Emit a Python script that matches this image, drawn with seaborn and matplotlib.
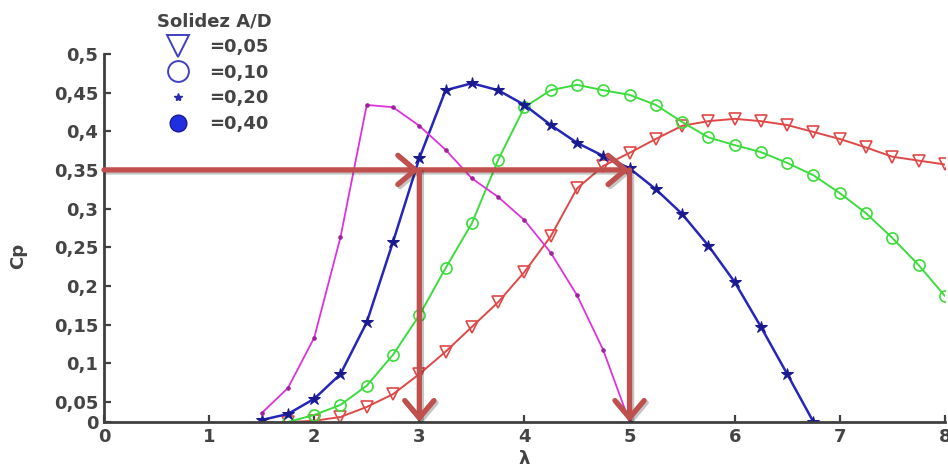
"""
Cp vs tip speed ratio for several solidity values (A/D)
"""
import numpy as np
import matplotlib
matplotlib.use('Agg')
import matplotlib.pyplot as plt
import matplotlib.patheffects as pe
from matplotlib.lines import Line2D
import seaborn as sns

# lambda values and Cp for each solidity
LAM_040 = [1.5, 1.75, 2.0, 2.25, 2.5, 2.75, 3.0, 3.25, 3.5, 3.75, 4.0,
           4.25, 4.5, 4.75, 5.0]
CP_040 = [0.022, 0.068, 0.133, 0.263, 0.434, 0.431, 0.407, 0.376, 0.339,
          0.315, 0.285, 0.243, 0.188, 0.117, 0.0]

LAM_020 = [1.5, 1.75, 2.0, 2.25, 2.5, 2.75, 3.0, 3.25, 3.5, 3.75, 4.0,
           4.25, 4.5, 4.75, 5.0, 5.25, 5.5, 5.75, 6.0, 6.25, 6.5, 6.75]
CP_020 = [0.005, 0.02, 0.054, 0.086, 0.153, 0.257, 0.365, 0.453, 0.462,
          0.453, 0.434, 0.408, 0.385, 0.368, 0.352, 0.325, 0.293, 0.252,
          0.205, 0.147, 0.086, 0.0]

LAM_010 = [1.75, 2.0, 2.25, 2.5, 2.75, 3.0, 3.25, 3.5, 3.75, 4.0, 4.25,
           4.5, 4.75, 5.0, 5.25, 5.5, 5.75, 6.0, 6.25, 6.5, 6.75, 7.0,
           7.25, 7.5, 7.75, 8.0]
CP_010 = [0.0, 0.0175, 0.0425, 0.071, 0.111, 0.162, 0.223, 0.281, 0.363,
          0.431, 0.453, 0.46, 0.453, 0.447, 0.434, 0.412, 0.392, 0.382,
          0.373, 0.359, 0.343, 0.32, 0.294, 0.262, 0.227, 0.187]

LAM_005 = [1.75, 2.0, 2.25, 2.5, 2.75, 3.0, 3.25, 3.5, 3.75, 4.0, 4.25,
           4.5, 4.75, 5.0, 5.25, 5.5, 5.75, 6.0, 6.25, 6.5, 6.75, 7.0,
           7.25, 7.5, 7.75, 8.0]
CP_005 = [0.0, 0.003, 0.0125, 0.0375, 0.06, 0.086, 0.115, 0.147, 0.179,
          0.218, 0.264, 0.326, 0.355, 0.372, 0.39, 0.407, 0.413, 0.416,
          0.413, 0.408, 0.399, 0.39, 0.379, 0.367, 0.362, 0.357]

SOLIDITY_LABELS = ['=0,05', '=0,10', '=0,20', '=0,40']
Y_TICKS = [0, 0.05, 0.1, 0.15, 0.2, 0.25, 0.3, 0.35, 0.4, 0.45, 0.5]
Y_TICK_LABELS = ['0', '0,05', '0,1', '0,15', '0,2', '0,25', '0,3', '0,35',
                 '0,4', '0,45', '0,5']
X_TICKS = [0, 1, 2, 3, 4, 5, 6, 7, 8]

# operating points marked with arrows
CP_TARGET = 0.35
LAM_MARKS = [3, 5]

TEXT_COLOR = '#444444'
ARROW_COLOR = '#c0504d'

# the original axis squeezes the band between 0 and 0.05
SQUEEZE = 0.52


def fwd(y):
    y = np.asarray(y, dtype=float)
    return np.where(y < 0.05, 0.05 - (0.05 - y) * SQUEEZE, y)


def inv(u):
    u = np.asarray(u, dtype=float)
    return np.where(u < 0.05, 0.05 - (0.05 - u) / SQUEEZE, u)


def arrow(ax, start, end):
    """

    """
    ax.annotate('', xy=end, xytext=start, annotation_clip=False,
                arrowprops=dict(arrowstyle='->,head_length=0.5,head_width=0.42',
                                color=ARROW_COLOR, lw=3.8, mutation_scale=25,
                                shrinkA=0, shrinkB=0,
                                path_effects=[pe.SimpleLineShadow(offset=(1.5, -1.5), alpha=0.25),
                                              pe.Normal()]),
                zorder=10)


def plot_cp():
    """

    """
    fig = plt.figure(figsize=(9.48, 4.66), dpi=100)
    ax = fig.add_axes([0.1097, 0.0944, 0.887, 0.79])

    sns.lineplot(x=LAM_005, y=CP_005, ax=ax, color='#e04848', lw=1.4,
                 marker='v', markersize=8, markerfacecolor='none',
                 markeredgecolor='#e04848', markeredgewidth=1.2, estimator=None)
    sns.lineplot(x=LAM_010, y=CP_010, ax=ax, color='#3cdc3c', lw=1.4,
                 marker='o', markersize=8, markerfacecolor='none',
                 markeredgecolor='#3cdc3c', markeredgewidth=1.2, estimator=None)
    sns.lineplot(x=LAM_020, y=CP_020, ax=ax, color='#2626b8', lw=1.8,
                 marker='*', markersize=9, markerfacecolor='#1a1a90',
                 markeredgecolor='#1a1a90', estimator=None)
    sns.lineplot(x=LAM_040, y=CP_040, ax=ax, color='#dd33dd', lw=1.3,
                 marker='.', markersize=5, markerfacecolor='#a0209a',
                 markeredgecolor='#a0209a', estimator=None)

    ax.set_yscale('function', functions=(fwd, inv))
    ax.set_xlim(0, 8)
    ax.set_ylim(0, 0.5)
    ax.set_xticks(X_TICKS)
    ax.set_xticklabels([str(t) for t in X_TICKS])
    ax.set_yticks(Y_TICKS)
    ax.set_yticklabels(Y_TICK_LABELS)
    ax.minorticks_off()

    for side in ['top', 'right']:
        ax.spines[side].set_visible(False)
    for side in ['left', 'bottom']:
        ax.spines[side].set_linewidth(2)
        ax.spines[side].set_color('#404040')
    ax.tick_params(direction='in', length=5, width=1.6, color='#404040',
                   labelsize=13, labelcolor=TEXT_COLOR, pad=4)
    for lab in ax.get_xticklabels() + ax.get_yticklabels():
        lab.set_fontweight('bold')

    ax.set_xlabel('λ', fontsize=13, color=TEXT_COLOR, fontweight='bold')
    ax.set_ylabel('Cp', fontsize=13, color=TEXT_COLOR, fontweight='bold')
    ax.xaxis.set_label_coords(0.5, -0.075)
    ax.yaxis.set_label_coords(-0.092, 0.45)

    # arrows: Cp = 0.35 -> lambda 3 and 5
    arrow(ax, (0, CP_TARGET), (LAM_MARKS[0], CP_TARGET))
    arrow(ax, (LAM_MARKS[0], CP_TARGET), (LAM_MARKS[1], CP_TARGET))
    for lam in LAM_MARKS:
        arrow(ax, (lam, CP_TARGET), (lam, 0))

    handles = [
        Line2D([], [], ls='none', marker='v', markersize=16, markerfacecolor='none',
               markeredgecolor='#4040c0', markeredgewidth=1.4),
        Line2D([], [], ls='none', marker='o', markersize=15, markerfacecolor='none',
               markeredgecolor='#4040c0', markeredgewidth=1.4),
        Line2D([], [], ls='none', marker='*', markersize=6, markerfacecolor='#2a2ab0',
               markeredgecolor='#2a2ab0'),
        Line2D([], [], ls='none', marker='o', markersize=12, markerfacecolor='#2030e0',
               markeredgecolor='#1a1a90'),
    ]
    leg = fig.legend(handles, SOLIDITY_LABELS, title='Solidez A/D',
                     loc='upper left', bbox_to_anchor=(0.152, 1.0),
                     frameon=False, fontsize=13, title_fontsize=13,
                     labelspacing=0.42, handletextpad=0.7, borderpad=0.2)
    for txt in leg.get_texts():
        txt.set_color(TEXT_COLOR)
        txt.set_fontweight('bold')
    leg.get_title().set_color(TEXT_COLOR)
    leg.get_title().set_fontweight('bold')

    fig.savefig('out.png', dpi=100)


if __name__ == '__main__':

    sns.set_theme(style='ticks')
    plt.rcParams['font.family'] = ['DejaVu Sans']

    plot_cp()
